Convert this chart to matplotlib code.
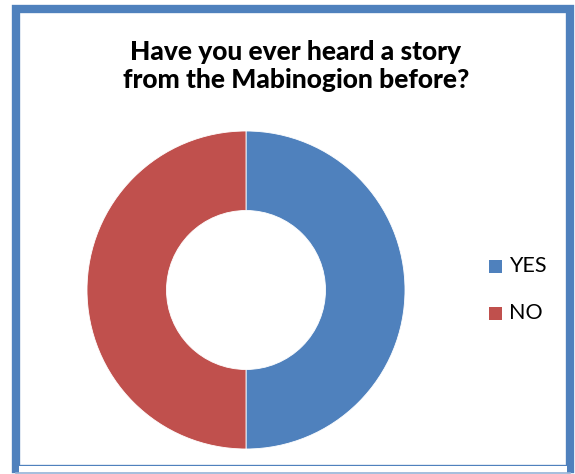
import matplotlib
matplotlib.use("Agg")
import matplotlib.pyplot as plt
from matplotlib.patches import Rectangle

categories = ["YES", "NO"]
values = [50, 50]
colors = ["#4F81BD", "#C0504D"]
title = "Have you ever heard a story\nfrom the Mabinogion before?"

W, H = 575, 474
fig = plt.figure(figsize=(W / 100, H / 100), dpi=100)
fig.patch.set_facecolor("white")

# frame
fig.patches.append(Rectangle((16 / W, 1 - 469 / H), (570 - 16) / W, (469 - 9) / H,
                             transform=fig.transFigure, fill=False,
                             edgecolor="#4F81BD", linewidth=6, zorder=0))
fig.add_artist(plt.Line2D([16 / W, 570 / W], [1 - 472.5 / H, 1 - 472.5 / H],
                          transform=fig.transFigure, color="#95B3D7", linewidth=1.2))
fig.patches.append(Rectangle((19 / W, 0), (567 - 19) / W, 1 - 466 / H + 0.001,
                             transform=fig.transFigure, facecolor="white",
                             edgecolor="none", zorder=1))

cx, cy, r = 246, 290, 159
ax = fig.add_axes([(cx - r) / W, (H - cy - r) / H, 2 * r / W, 2 * r / H])
wedges, _ = ax.pie(values, colors=colors, startangle=90, counterclock=False,
                   radius=1, wedgeprops=dict(width=0.5, edgecolor="white", linewidth=0.6))
ax.set_xlim(-1, 1)
ax.set_ylim(-1, 1)
ax.set_aspect("auto")
ax.axis("off")

fig.text(296 / W, 1 - 66 / H, title, ha="center", va="center", fontsize=19,
         fontweight=900, family="Lato", linespacing=1.22)

for i, (cat, col) in enumerate(zip(categories, colors)):
    y = 266 + i * 47
    s = 13
    fig.patches.append(Rectangle((489 / W, 1 - (y + s / 2) / H), s / W, s / H,
                                 transform=fig.transFigure, facecolor=col,
                                 edgecolor="none"))
    fig.text(509 / W, 1 - y / H, cat, ha="left", va="center", fontsize=15.5,
             family="Lato")

fig.savefig("out.png", dpi=100)
